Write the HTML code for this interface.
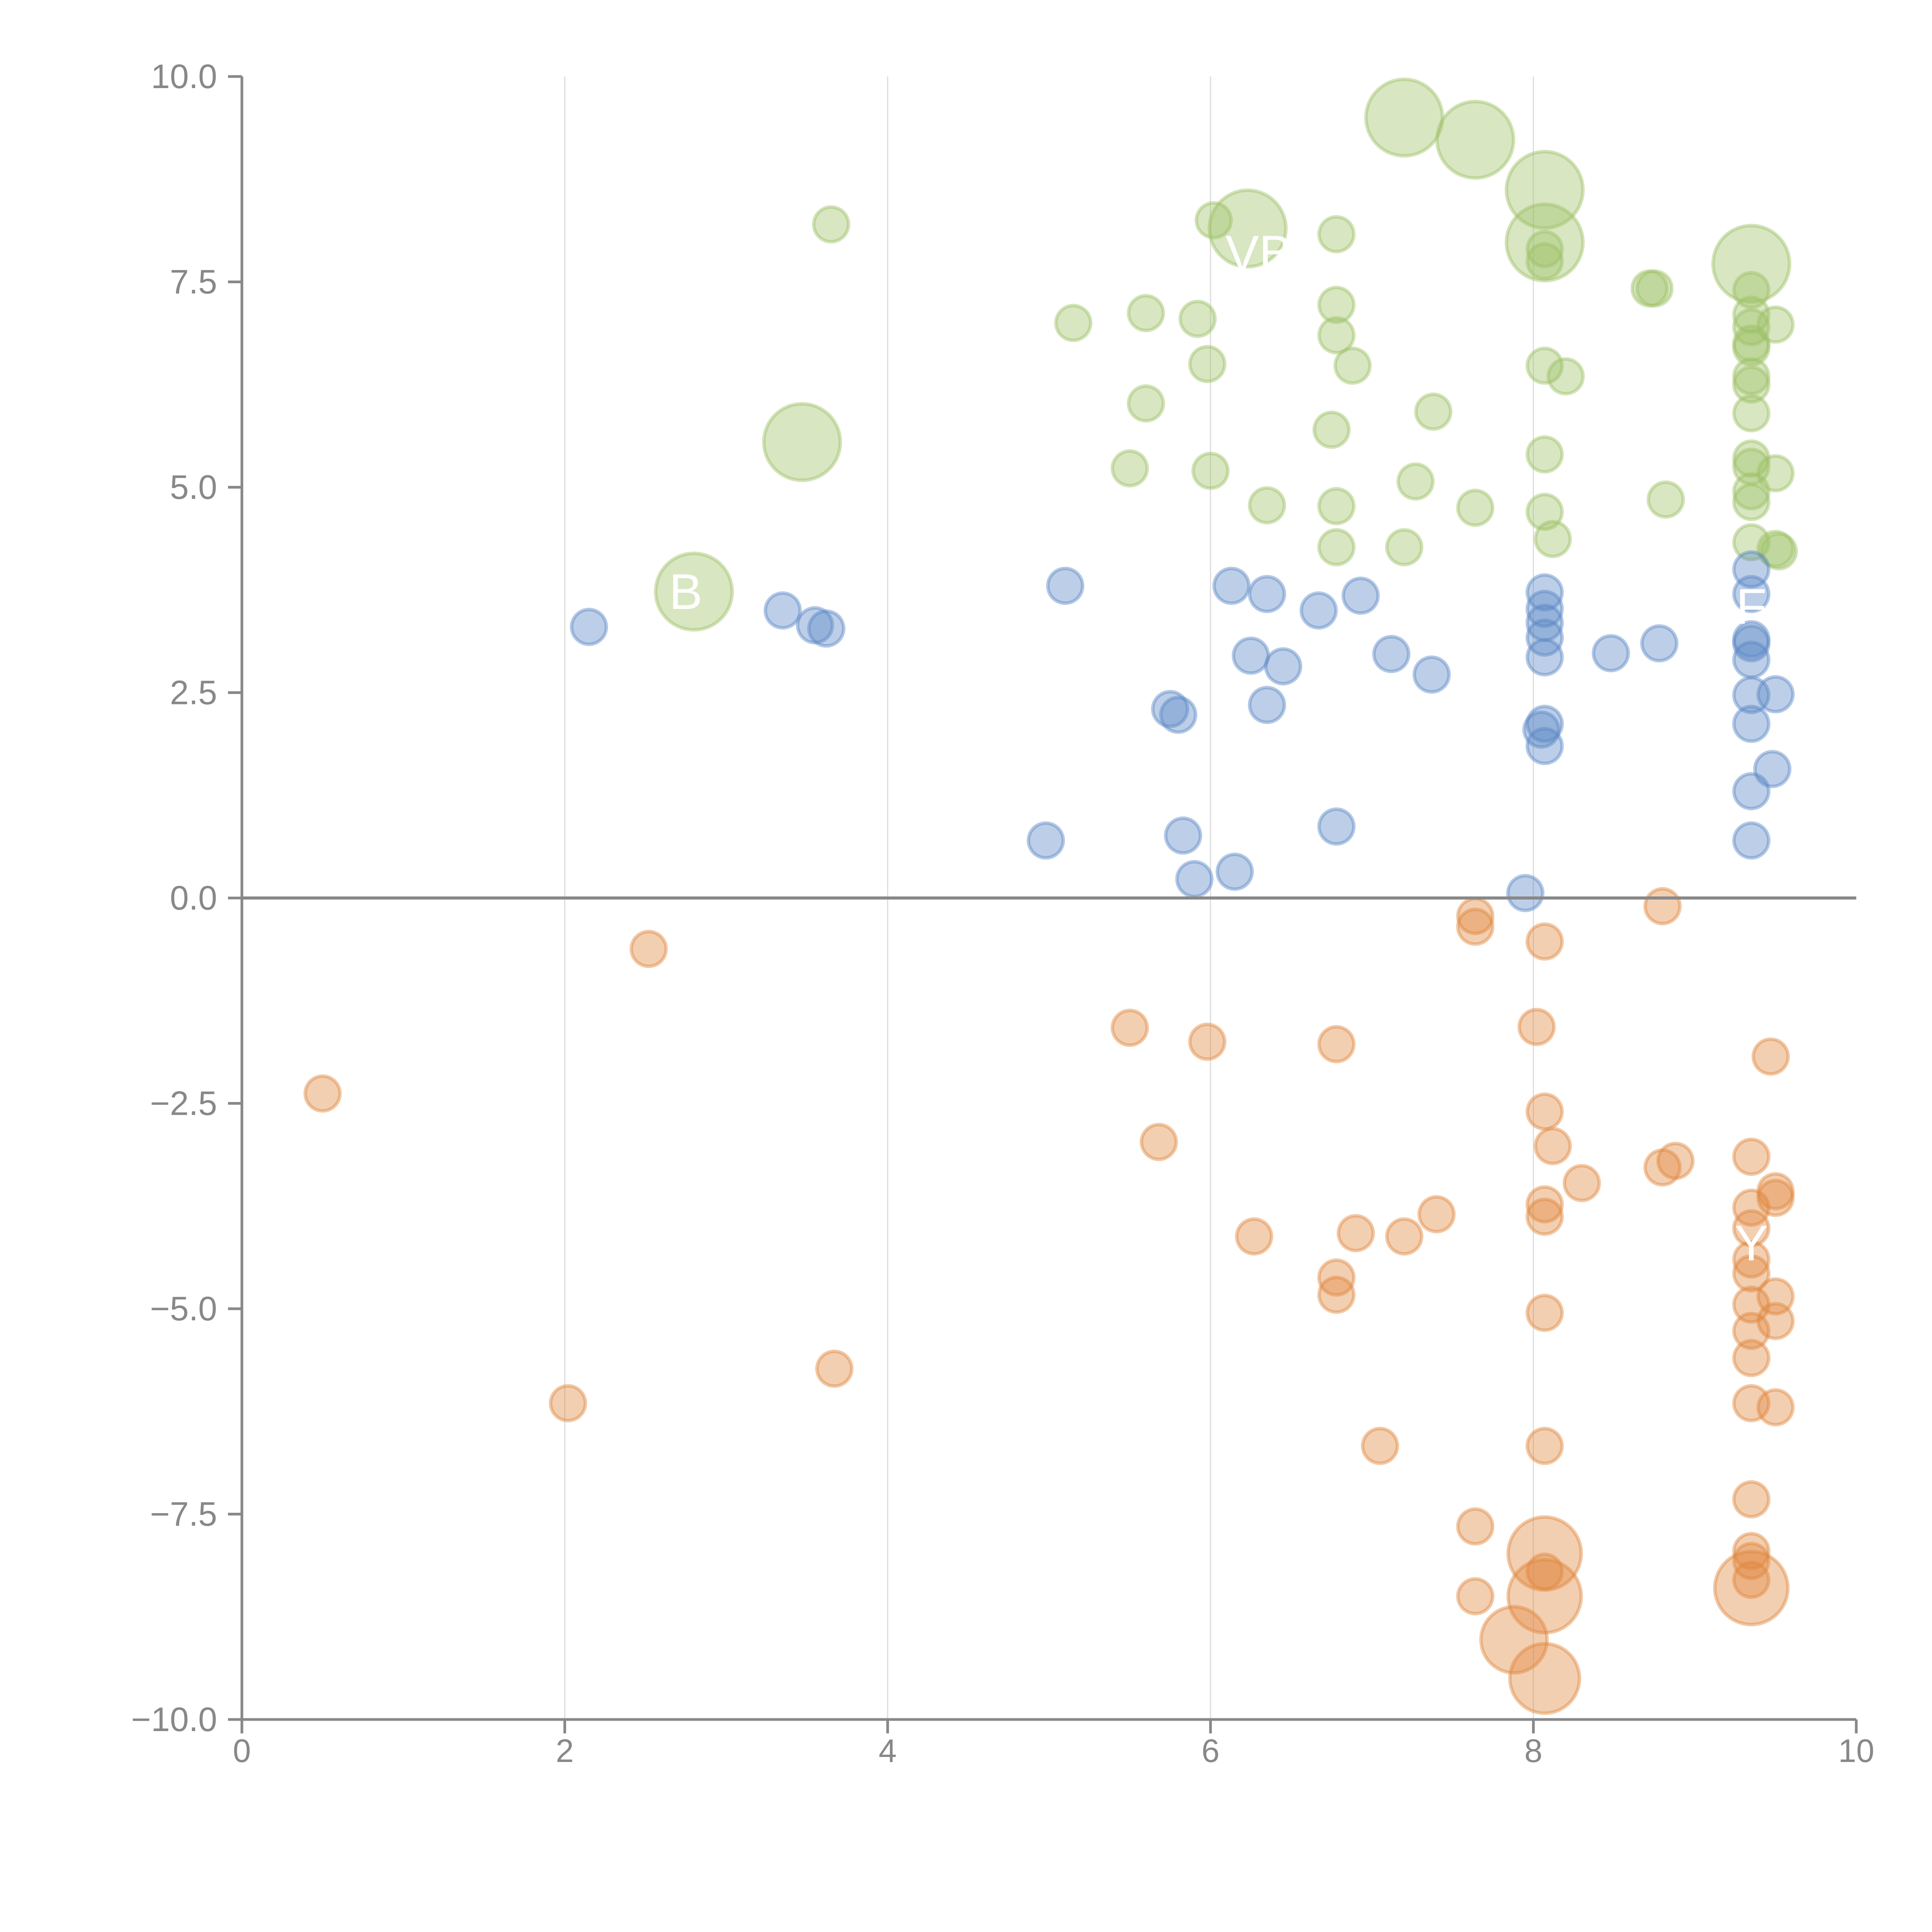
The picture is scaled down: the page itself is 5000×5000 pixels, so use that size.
<!DOCTYPE html>
<html><head><meta charset="utf-8"><style>
html,body{margin:0;padding:0;background:#fff;width:5000px;height:5000px;overflow:hidden}
svg{display:block}
svg text{font-family:"Liberation Sans",Arial,sans-serif}
</style></head><body>
<svg id="chart" width="5000" height="5000" viewBox="0 0 5000 5000" xmlns="http://www.w3.org/2000/svg">
<g id="grid"></g>
<g id="marks"></g>
<g id="axes"></g>
<g id="labels"></g>
</svg>
<script>
const xTicks = [0, 2, 4, 6, 8, 10];
const yTicks = [10, 7.5, 5, 2.5, 0, -2.5, -5, -7.5, -10];
const yTickLabels = ["10.0", "7.5", "5.0", "2.5", "0.0", "\u22122.5", "\u22125.0", "\u22127.5", "\u221210.0"];

const greenX = [3.65,6.02,6.23,6.78,7.2,7.64,8.07,8.07,8.07,8.07,9.35,8.72,8.75,9.35,9.35,9.35,9.5,9.35,9.35,9.35,9.35,9.35,9.35,9.35,9.5,9.35,9.35,9.35,9.5,9.52,5.15,5.6,5.92,6.78,6.78,5.98,6.88,8.07,8.2,5.6,6.75,7.38,5.5,6.0,8.07,7.27,6.35,6.78,7.64,8.07,8.82,6.78,7.2,8.12,3.47,2.8];
const greenY = [8.2,8.25,8.15,8.08,9.5,9.23,8.62,7.98,7.9,7.75,7.72,7.42,7.42,7.4,7.1,6.95,6.98,6.75,6.7,6.35,6.25,5.9,5.35,5.25,5.17,4.95,4.82,4.33,4.25,4.22,7.0,7.12,7.05,7.22,6.85,6.5,6.48,6.48,6.35,6.02,5.7,5.92,5.23,5.2,5.4,5.07,4.78,4.77,4.75,4.7,4.85,4.27,4.27,4.37,5.55,3.73];
const greenSize = [1,1,2.2,1,2.2,2.2,2.2,2.2,1,1,2.2,1,1,1,1,1,1,1,1,1,1,1,1,1,1,1,1,1,1,1,1,1,1,1,1,1,1,1,1,1,1,1,1,1,1,1,1,1,1,1,1,1,1,1,2.2,2.2];

const blueX = [2.15,3.35,3.55,3.62,5.1,6.13,6.35,6.67,6.93,6.25,6.45,7.12,7.37,5.75,5.8,6.35,8.07,8.07,8.07,8.07,8.07,8.48,8.78,9.35,9.35,9.35,9.35,9.35,9.35,9.5,9.35,8.07,8.05,8.07,9.48,9.35,9.35,4.98,5.83,6.78,5.9,6.15,7.95];
const blueY = [3.3,3.5,3.32,3.28,3.8,3.8,3.7,3.5,3.68,2.95,2.82,2.97,2.72,2.3,2.23,2.35,3.72,3.52,3.35,3.17,2.93,2.98,3.1,4.0,3.7,3.15,3.1,2.9,2.47,2.48,2.12,2.12,2.05,1.85,1.57,1.3,0.7,0.7,0.76,0.87,0.23,0.32,0.06];

const orangeX = [0.5,2.52,2.02,3.67,5.5,5.98,6.78,5.68,6.27,6.78,6.78,6.9,7.2,7.4,7.05,7.64,7.64,8.07,8.8,8.02,9.47,8.07,8.12,8.3,8.8,8.88,9.35,9.5,9.5,9.35,9.35,8.07,8.07,9.35,9.35,9.35,9.5,9.5,9.35,9.35,8.07,9.35,9.5,8.07,9.35,7.64,9.35,9.35,9.35,9.35,8.07,8.07,8.07,7.64,7.88,8.07];
const orangeY = [-2.38,-0.62,-6.15,-5.73,-1.58,-1.75,-1.78,-2.97,-4.12,-4.62,-4.83,-4.08,-4.12,-3.85,-6.67,-0.22,-0.35,-0.53,-0.1,-1.57,-1.93,-2.6,-3.02,-3.47,-3.28,-3.2,-3.15,-3.57,-3.65,-3.77,-4.02,-3.73,-3.88,-4.4,-4.57,-4.95,-4.85,-5.15,-5.27,-5.6,-5.05,-6.15,-6.2,-6.67,-7.32,-7.65,-7.95,-8.07,-8.3,-8.4,-7.98,-8.2,-8.5,-8.5,-9.03,-9.5];
const orangeSize = [1,1,1,1,1,1,1,1,1,1,1,1,1,1,1,1,1,1,1,1,1,1,1,1,1,1,1,1,1,1,1,1,1,1,1,1,1,1,1,1,1,1,1,1,1,1,1,1,1,2.1,2.1,1,2.1,1,1.9,2.0];

const X0 = 626, X1 = 4804, Y0 = 4450, Y1 = 198;
function sx(v){ return X0 + (v - 0) / 10 * (X1 - X0); }
function sy(v){ return Y0 - (v + 10) / 20 * (Y0 - Y1); }
const NS = "http://www.w3.org/2000/svg";
function mk(tag, attrs, parent){ const e = document.createElementNS(NS, tag); for (const k in attrs) e.setAttribute(k, attrs[k]); parent.appendChild(e); return e; }

const grid = document.getElementById('grid');
[2,4,6,8].forEach(v => {
  const l = mk('line', {x1:sx(v), x2:sx(v), y1:Y1, y2:Y0, stroke:'#dcdcdc', 'stroke-width':3}, grid);
  
  
});

const marks = document.getElementById('marks');
function series(xs, ys, sizes, color, name){
  const g = mk('g', {}, marks);
  
  
  xs.forEach((x, i) => {
    const r = 45 * (sizes ? sizes[i] : 1);
    const c = mk('circle', {cx:sx(x), cy:sy(ys[i]), r:r, fill:color, 'fill-opacity':0.4, stroke:color, 'stroke-opacity':0.45, 'stroke-width':9}, g);
    
    
  });
}
series(greenX, greenY, greenSize, '#9dc167', 'green');
series(blueX, blueY, null, '#5b87c5', 'blue');
series(orangeX, orangeY, orangeSize, '#e0883f', 'orange');

const axes = document.getElementById('axes');
mk('line', {x1:X0, x2:X0, y1:Y1, y2:Y0, stroke:'#888', 'stroke-width':7}, axes);
mk('line', {x1:X0, x2:X1, y1:Y0, y2:Y0, stroke:'#888', 'stroke-width':7}, axes);
const zl = mk('line', {x1:X0, x2:X1, y1:sy(0), y2:sy(0), stroke:'#888', 'stroke-width':8}, axes);


xTicks.forEach(v => {
  mk('line', {x1:sx(v), x2:sx(v), y1:Y0, y2:Y0+36, stroke:'#888', 'stroke-width':7}, axes);
  const t = mk('text', {x:sx(v), y:Y0+110, 'text-anchor':'middle', 'font-size':84, fill:'#888'}, axes);
  t.textContent = v;
  
  
});
yTicks.forEach((v, i) => {
  mk('line', {x1:X0-36, x2:X0, y1:sy(v), y2:sy(v), stroke:'#888', 'stroke-width':7}, axes);
  const t = mk('text', {x:X0-64, y:sy(v)+30, 'text-anchor':'end', 'font-size':88, fill:'#888'}, axes);
  t.textContent = yTickLabels[i];
  
  
});

const labels = document.getElementById('labels');
[[2.75,3.73,'B'],[6.3,7.85,'VB'],[9.35,3.55,'F'],[9.35,-4.2,'Y']].forEach(d => {
  const t = mk('text', {x:sx(d[0]), y:sy(d[1])+45, 'text-anchor':'middle', 'font-size':130, fill:'#fff'}, labels);
  t.textContent = d[2];
  
  
});
</script>
</body></html>
